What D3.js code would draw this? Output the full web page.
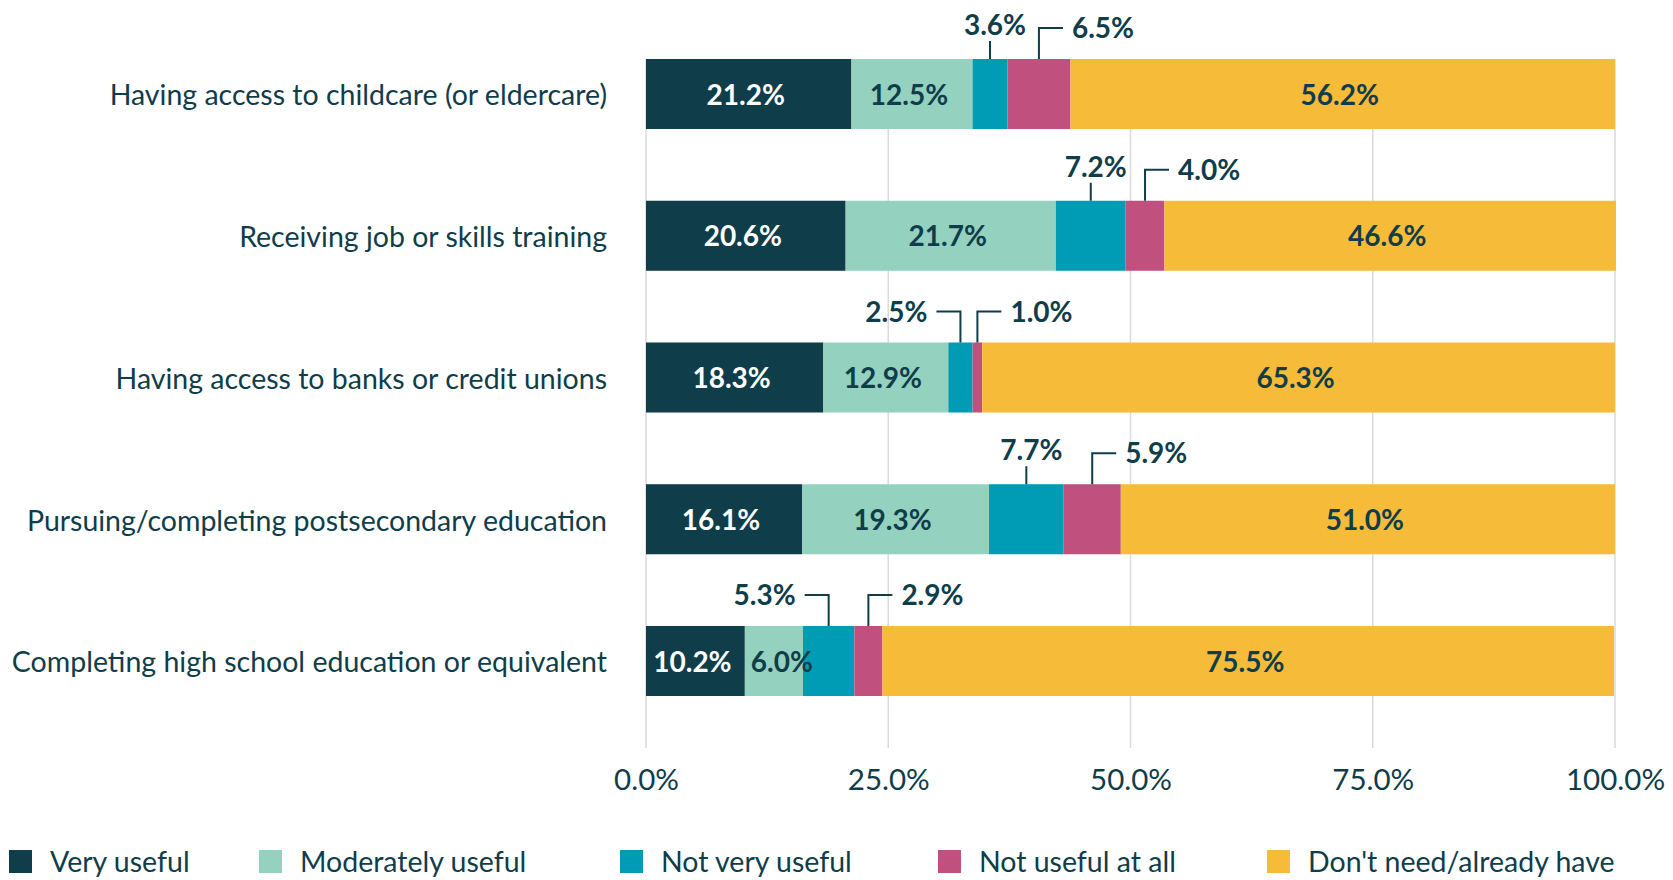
<!DOCTYPE html>
<html>
<head>
<meta charset="utf-8">
<script src="https://cdn.jsdelivr.net/npm/d3@7"></script>
<style>
  body { margin: 0; background: #fff; }
  svg { display: block; font-family: Lato, "Open Sans", sans-serif; }
</style>
</head>
<body>
<svg id="chart" width="1673" height="880"></svg>
<script>
// data
const categories = [
  "Having access to childcare (or eldercare)",
  "Receiving job or skills training",
  "Having access to banks or credit unions",
  "Pursuing/completing postsecondary education",
  "Completing high school education or equivalent"
];
const seriesNames = ["Very useful", "Moderately useful", "Not very useful", "Not useful at all", "Don't need/already have"];
const veryUseful       = [21.2, 20.6, 18.3, 16.1, 10.2];
const moderatelyUseful = [12.5, 21.7, 12.9, 19.3, 6.0];
const notVeryUseful    = [3.6, 7.2, 2.5, 7.7, 5.3];
const notUsefulAtAll   = [6.5, 4.0, 1.0, 5.9, 2.9];
const dontNeed         = [56.2, 46.6, 65.3, 51.0, 75.5];
const xTicks = [0, 25, 50, 75, 100];

const colors = ["#0f3d4a", "#94d2bf", "#009bb4", "#c0507e", "#f6bb38"];
const textDark = "#0f3d4a";
// how the small segments get their callout: "up", "left" or "right"
const callouts = [["up", "right"], ["up", "right"], ["left", "right"], ["up", "right"], ["left", "right"]];
const legendX = [9, 259, 620, 938, 1267];

const table = categories.map((c, i) => ({
  cat: c,
  [seriesNames[0]]: veryUseful[i],
  [seriesNames[1]]: moderatelyUseful[i],
  [seriesNames[2]]: notVeryUseful[i],
  [seriesNames[3]]: notUsefulAtAll[i],
  [seriesNames[4]]: dontNeed[i]
}));

const svg = d3.select("#chart");

const x = d3.scaleLinear().domain([0, 100]).range([646, 1615]);
const y = d3.scaleBand().domain(categories).range([59, 696]).paddingInner(0.506).paddingOuter(0);

// gridlines
svg.append("g")
  .selectAll("line")
  .data(xTicks)
  .join("line")
  .attr("x1", d => x(d)).attr("x2", d => x(d))
  .attr("y1", 59).attr("y2", 748)
  .attr("stroke", "#dadada")
  .attr("stroke-width", 1.5);

// x axis labels
const xAxis = svg.append("g")
  .attr("transform", "translate(0,748)")
  .call(d3.axisBottom(x).tickValues(xTicks).tickFormat(d => d.toFixed(1) + "%").tickSize(0).tickPadding(21));
xAxis.select(".domain").remove();
xAxis.selectAll("text")
  .attr("fill", textDark)
  .style("font-size", "29.5px")
  .style("font-family", "Lato, sans-serif");

// category labels
const yAxis = svg.append("g")
  .attr("transform", "translate(607,0)")
  .call(d3.axisLeft(y).tickSize(0).tickPadding(0));
yAxis.select(".domain").remove();
yAxis.selectAll("text")
  .attr("dy", "0.4em")
  .attr("fill", textDark)
  .style("font-size", "28.5px")
  .style("font-family", "Lato, sans-serif");

const stacked = d3.stack().keys(seriesNames)(table);

const layers = svg.append("g")
  .selectAll("g")
  .data(stacked)
  .join("g")
  .attr("fill", (d, i) => colors[i]);

layers.selectAll("rect")
  .data(d => d)
  .join("rect")
  .attr("x", d => x(d[0]))
  .attr("y", d => y(d.data.cat))
  .attr("width", d => x(d[1]) - x(d[0]))
  .attr("height", y.bandwidth());

const fmt = v => v.toFixed(1) + "%";
const labelFont = "bold 28px Lato, sans-serif";

// labels inside the big segments
[0, 1, 4].forEach(si => {
  svg.append("g")
    .selectAll("text")
    .data(stacked[si])
    .join("text")
    .attr("y", d => y(d.data.cat) + y.bandwidth() / 2)
    .attr("dy", "0.38em")
    .attr("text-anchor", "middle")
    .attr("fill", si === 0 ? "#fff" : textDark)
    .style("font", labelFont)
    .text(d => fmt(d[1] - d[0]))
    .attr("x", function (d) {
      const w = this.getComputedTextLength();
      const cx = (x(d[0]) + x(d[1])) / 2 - 3;
      // keep narrow labels from running back into the previous segment
      return Math.max(cx, x(d[0]) + 6 + w / 2);
    });
});

// callouts for the thin segments
const calloutG = svg.append("g");
[2, 3].forEach((si, k) => {
  stacked[si].forEach((d, i) => {
    const cx = (x(d[0]) + x(d[1])) / 2;
    const top = y(d.data.cat);
    const mode = callouts[i][k];
    if (mode === "up") {
      calloutG.append("line")
        .attr("x1", cx).attr("x2", cx)
        .attr("y1", top).attr("y2", top - 18)
        .attr("stroke", textDark).attr("stroke-width", 2);
      calloutG.append("text")
        .attr("x", cx + 5).attr("y", top - 24)
        .attr("text-anchor", "middle")
        .attr("fill", textDark)
        .style("font", labelFont)
        .text(fmt(d[1] - d[0]));
    } else {
      const dir = mode === "right" ? 1 : -1;
      const ey = top - 31;
      calloutG.append("path")
        .attr("d", d3.line()([[cx, top], [cx, ey], [cx + dir * 24, ey]]))
        .attr("fill", "none")
        .attr("stroke", textDark).attr("stroke-width", 2);
      calloutG.append("text")
        .attr("x", cx + dir * 33).attr("y", ey)
        .attr("dy", "0.36em")
        .attr("text-anchor", dir > 0 ? "start" : "end")
        .attr("fill", textDark)
        .style("font", labelFont)
        .text(fmt(d[1] - d[0]));
    }
  });
});

// legend
const legend = svg.append("g")
  .selectAll("g")
  .data(seriesNames)
  .join("g")
  .attr("transform", (d, i) => `translate(${legendX[i]},850)`);
legend.append("rect")
  .attr("width", 23).attr("height", 23)
  .attr("fill", (d, i) => colors[i]);
legend.append("text")
  .attr("x", 41).attr("y", 12)
  .attr("dy", "0.36em")
  .attr("fill", textDark)
  .style("font-size", "28.5px")
  .text(d => d);
</script>
</body>
</html>
